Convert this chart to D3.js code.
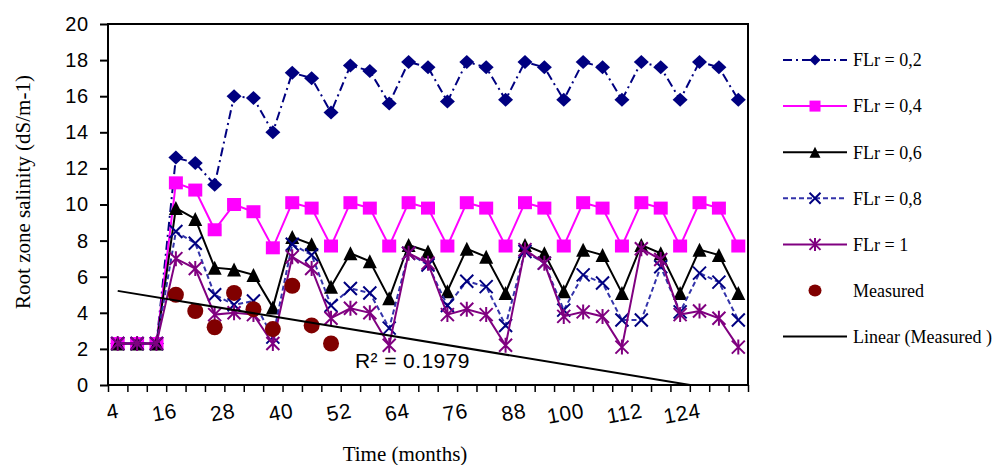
<!DOCTYPE html>
<html>
<head>
<meta charset="utf-8">
<script src="https://cdn.jsdelivr.net/npm/d3@7/dist/d3.min.js"></script>
<style>
  body { margin: 0; background: #fff; }
</style>
</head>
<body>
<svg id="chart" width="994" height="465"></svg>
<script>
/* Daten */
const months = [4, 8, 12, 16, 20, 24, 28, 32, 36, 40, 44, 48, 52, 56, 60, 64, 68,
  72, 76, 80, 84, 88, 92, 96, 100, 104, 108, 112, 116, 120, 124, 128, 132];
const xLabels = [4, 16, 28, 40, 52, 64, 76, 88, 100, 112, 124];
const yTicks = [0, 2, 4, 6, 8, 10, 12, 14, 16, 18, 20];

const flr02 = [2.3, 2.3, 2.3, 12.6, 12.3, 11.1, 16.0, 15.9, 14.0, 17.3, 17.0, 15.1, 17.7, 17.4, 15.6, 17.9, 17.6,
  15.7, 17.9, 17.6, 15.8, 17.9, 17.6, 15.8, 17.9, 17.6, 15.8, 17.9, 17.6, 15.8, 17.9, 17.6, 15.8];
const flr04 = [2.3, 2.3, 2.3, 11.2, 10.8, 8.6, 10.0, 9.6, 7.6, 10.1, 9.8, 7.7, 10.1, 9.8, 7.7, 10.1, 9.8,
  7.7, 10.1, 9.8, 7.7, 10.1, 9.8, 7.7, 10.1, 9.8, 7.7, 10.1, 9.8, 7.7, 10.1, 9.8, 7.7];
const flr06 = [2.3, 2.3, 2.3, 9.8, 9.2, 6.5, 6.4, 6.1, 4.3, 8.2, 7.8, 5.45, 7.3, 6.85, 4.8, 7.75, 7.4,
  5.2, 7.55, 7.1, 5.1, 7.75, 7.3, 5.2, 7.5, 7.2, 5.1, 7.75, 7.3, 5.1, 7.5, 7.2, 5.1];
const flr08 = [2.3, 2.3, 2.3, 8.5, 7.85, 5.0, 4.45, 4.65, 2.65, 7.8, 7.2, 4.4, 5.35, 5.1, 3.15, 7.3, 6.65,
  4.4, 5.75, 5.45, 3.3, 7.4, 6.75, 4.15, 6.1, 5.65, 3.6, 3.6, 6.55, 4.05, 6.2, 5.7, 3.6];
const flr1 = [2.3, 2.3, 2.3, 7.0, 6.45, 3.9, 4.0, 3.9, 2.3, 7.1, 6.45, 3.7, 4.25, 4.0, 2.2, 7.3, 6.75,
  3.9, 4.2, 3.9, 2.2, 7.5, 6.75, 3.8, 4.05, 3.8, 2.1, 7.55, 6.95, 3.9, 4.1, 3.7, 2.1];
const measuredMonths = [16, 20, 24, 28, 32, 36, 40, 44, 48];
const measured = [5.0, 4.1, 3.2, 5.1, 4.2, 3.1, 5.5, 3.3, 2.3];
const r2Text = 'R² = 0.1979';

/* Diagramm-Einstellungen */
const width = 994, height = 465;
const margin = { top: 24, right: 246, bottom: 80, left: 108 };
const sans = "'Liberation Sans', Arial, sans-serif";
const serif = "'Liberation Serif', 'Times New Roman', serif";

const svg = d3.select('#chart');

const x = d3.scaleBand().domain(months).range([margin.left, width - margin.right]);
const xi = d3.scaleLinear().domain([0, months.length]).range([margin.left, width - margin.right]);
const y = d3.scaleLinear().domain([0, 20]).range([height - margin.bottom, margin.top]);
const cx = m => x(m) + x.bandwidth() / 2;

/* Markerformen als Pfade */
const shapes = {
  diamond: (w, h) => `M0,${-h / 2}L${w / 2},0L0,${h / 2}L${-w / 2},0Z`,
  square: (w, h) => `M${-w / 2},${-h / 2}h${w}v${h}h${-w}Z`,
  triangle: (w, h) => `M0,${-h / 2}L${w / 2},${h / 2}L${-w / 2},${h / 2}Z`,
  cross: (w, h) => `M${-w / 2},${-h / 2}L${w / 2},${h / 2}M${w / 2},${-h / 2}L${-w / 2},${h / 2}`,
  star: (w, h) => `M${-w / 2},${-h / 2}L${w / 2},${h / 2}M${w / 2},${-h / 2}L${-w / 2},${h / 2}M0,${-h / 2 - 1}V${h / 2 + 1}`,
  circle: (w, h) => `M${-w / 2},0A${w / 2},${h / 2} 0 1,0 ${w / 2},0A${w / 2},${h / 2} 0 1,0 ${-w / 2},0Z`
};
const filled = { diamond: true, square: true, triangle: true, circle: true };

const series = [
  { name: 'FLr = 0,2', values: flr02, line: '#000080', mark: '#000080', dash: '9,4,2,4', shape: 'diamond', size: [15, 14] },
  { name: 'FLr = 0,4', values: flr04, line: '#FF00FF', mark: '#FF00FF', dash: null, shape: 'square', size: [14, 13] },
  { name: 'FLr = 0,6', values: flr06, line: '#000000', mark: '#000000', dash: null, shape: 'triangle', size: [14, 14] },
  { name: 'FLr = 0,8', values: flr08, line: '#3333AA', mark: '#000080', dash: '5,3', shape: 'cross', size: [13, 13] },
  { name: 'FLr = 1', values: flr1, line: '#800080', mark: '#800080', dash: null, shape: 'star', size: [13, 13] }
];

/* Clip fuer den Plotbereich */
svg.append('clipPath').attr('id', 'plotClip')
  .append('rect')
  .attr('x', margin.left).attr('y', margin.top)
  .attr('width', width - margin.left - margin.right)
  .attr('height', height - margin.top - margin.bottom);

/* Y-Achse */
svg.append('g')
  .attr('transform', `translate(${margin.left},0)`)
  .call(d3.axisLeft(y).tickValues(yTicks).tickSize(8).tickPadding(11).tickSizeOuter(0))
  .call(g => g.select('.domain').remove())
  .call(g => g.selectAll('line').attr('stroke', '#000').attr('stroke-width', 2))
  .selectAll('text')
  .attr('font-family', sans).attr('font-size', 20).attr('letter-spacing', 0.8).attr('fill', '#000');

/* X-Achse: Striche zwischen den Kategorien */
svg.append('g')
  .attr('transform', `translate(0,${height - margin.bottom})`)
  .call(d3.axisBottom(xi).tickValues(d3.range(0, months.length + 1)).tickSize(7).tickFormat(''))
  .call(g => g.select('.domain').remove())
  .call(g => g.selectAll('line').attr('stroke', '#000').attr('stroke-width', 1.5));

/* X-Achse: Beschriftung, leicht gedreht, rechtsbuendig an der Kategoriemitte */
svg.append('g')
  .attr('transform', `translate(0,${height - margin.bottom})`)
  .call(d3.axisBottom(x).tickValues(xLabels).tickSize(0))
  .call(g => g.select('.domain').remove())
  .selectAll('text')
  .attr('y', 0).attr('dy', '0.35em')
  .attr('transform', 'translate(1,25) rotate(-10)')
  .attr('text-anchor', 'end')
  .attr('font-family', sans).attr('font-size', 21).attr('letter-spacing', 0.8).attr('fill', '#000');

/* Serien */
const plot = svg.append('g');
const line = d3.line().x((d, i) => cx(months[i])).y(d => y(d));

series.forEach(s => {
  plot.append('path')
    .datum(s.values)
    .attr('fill', 'none')
    .attr('stroke', s.line)
    .attr('stroke-width', 2)
    .attr('stroke-dasharray', s.dash)
    .attr('d', line);
  plot.append('g').selectAll('path')
    .data(s.values)
    .join('path')
    .attr('transform', (d, i) => `translate(${cx(months[i])},${y(d)})`)
    .attr('d', shapes[s.shape](s.size[0], s.size[1]))
    .attr('fill', filled[s.shape] ? s.mark : 'none')
    .attr('stroke', filled[s.shape] ? 'none' : s.mark)
    .attr('stroke-width', 2);
});

/* Messwerte */
plot.append('g').selectAll('path')
  .data(measured)
  .join('path')
  .attr('transform', (d, i) => `translate(${cx(measuredMonths[i])},${y(d)})`)
  .attr('d', shapes.circle(16, 16))
  .attr('fill', '#800000');

/* Lineare Trendlinie der Messwerte (Index der Kategorie als x) */
const mIdx = measuredMonths.map(m => months.indexOf(m));
const meanX = d3.mean(mIdx), meanY = d3.mean(measured);
const sxy = d3.sum(mIdx, (v, i) => (v - meanX) * (measured[i] - meanY));
const sxx = d3.sum(mIdx, v => (v - meanX) ** 2);
const slope = sxy / sxx;
const intercept = meanY - slope * meanX;
const trendIdx = [0, months.length - 1];

plot.append('path')
  .datum(trendIdx)
  .attr('clip-path', 'url(#plotClip)')
  .attr('fill', 'none')
  .attr('stroke', '#000')
  .attr('stroke-width', 2)
  .attr('d', d3.line().x(i => cx(months[i])).y(i => y(intercept + slope * i)));

svg.append('text')
  .attr('x', 355).attr('y', 368)
  .attr('font-family', sans).attr('font-size', 21).attr('letter-spacing', 0.4)
  .text(r2Text);

/* Rahmen */
svg.append('rect')
  .attr('x', margin.left).attr('y', margin.top)
  .attr('width', width - margin.left - margin.right)
  .attr('height', height - margin.top - margin.bottom)
  .attr('fill', 'none').attr('stroke', '#000').attr('stroke-width', 2);

/* Achsentitel */
svg.append('text')
  .attr('x', (margin.left + width - margin.right) / 2 - 23).attr('y', 461)
  .attr('text-anchor', 'middle')
  .attr('font-family', serif).attr('font-size', 21)
  .text('Time (months)');

svg.append('text')
  .attr('transform', 'translate(30,192) rotate(-90)')
  .attr('text-anchor', 'middle')
  .attr('font-family', serif).attr('font-size', 21)
  .text('Root zone salinity (dS/m-1)');

/* Legende */
const legendItems = series.map(s => ({ name: s.name, line: s.line, mark: s.mark, dash: s.dash, shape: s.shape }))
  .concat([
    { name: 'Measured', line: null, mark: '#800000', dash: null, shape: 'circle' },
    { name: 'Linear (Measured )', line: '#000', mark: null, dash: null, shape: null }
  ]);

const legend = svg.append('g');
const legendRow = legend.selectAll('g')
  .data(legendItems)
  .join('g')
  .attr('transform', (d, i) => `translate(783,${60 + i * 46.1})`);

legendRow.filter(d => d.line)
  .append('line')
  .attr('x1', 0).attr('x2', 64)
  .attr('stroke', d => d.line)
  .attr('stroke-width', 2)
  .attr('stroke-dasharray', d => d.dash);

legendRow.filter(d => d.shape)
  .append('path')
  .attr('transform', 'translate(32,0)')
  .attr('d', d => d.shape === 'circle' ? shapes.circle(13, 12) : shapes[d.shape](11, 11))
  .attr('fill', d => filled[d.shape] ? d.mark : 'none')
  .attr('stroke', d => filled[d.shape] ? 'none' : d.mark)
  .attr('stroke-width', 2);

legendRow.append('text')
  .attr('x', 70).attr('dy', '0.35em')
  .attr('font-family', serif).attr('font-size', 18)
  .text(d => d.name);
</script>
</body>
</html>
